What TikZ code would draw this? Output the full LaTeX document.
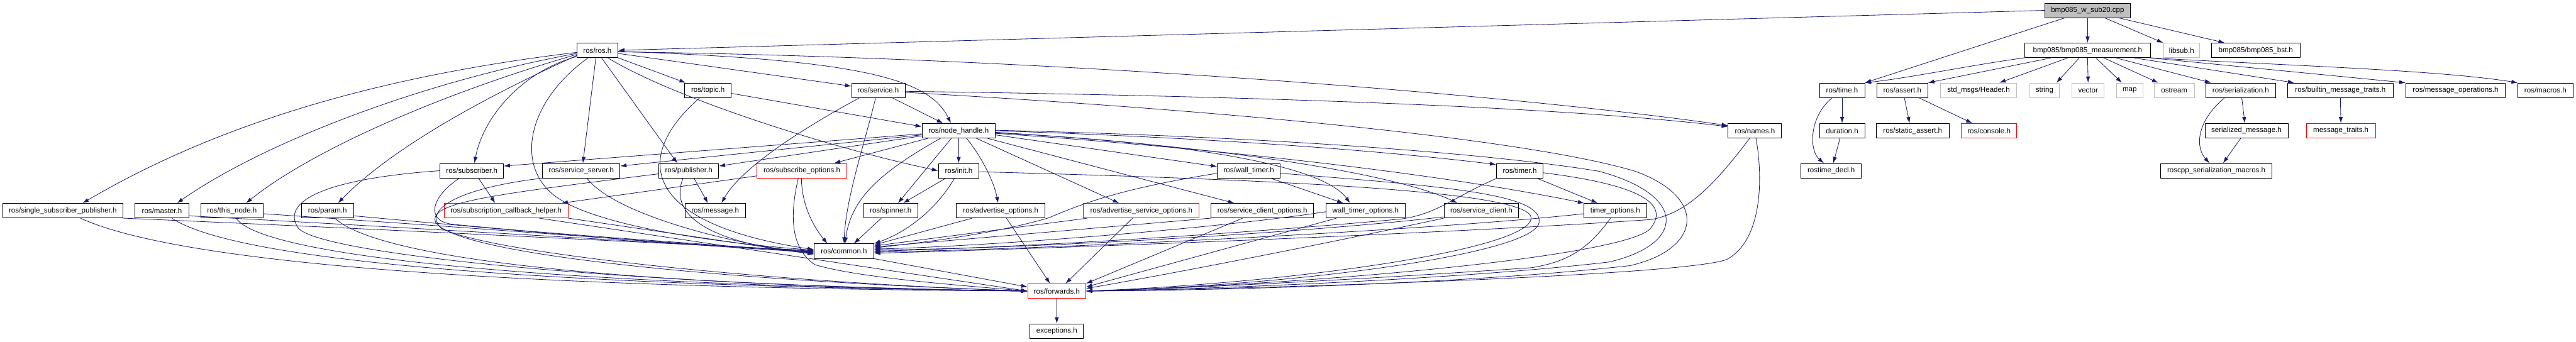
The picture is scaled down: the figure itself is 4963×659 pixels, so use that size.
\documentclass[tikz,border=0pt]{standalone}
\usepackage{fontspec}
\setmainfont{Liberation Sans}
\usetikzlibrary{arrows.meta}
\definecolor{edgeblue}{HTML}{191970}
\definecolor{extgray}{HTML}{BFBFBF}
\definecolor{truncred}{HTML}{FF0000}
\tikzset{
  nb/.style={draw=black, line width=1pt, minimum height=28pt, inner sep=0pt, fill=white, font=\fontsize{14}{16}\selectfont},
  ext/.style={nb, draw=extgray},
  trunc/.style={nb, draw=truncred},
  rootnode/.style={nb, fill=extgray},
  dep/.style={draw=edgeblue, line width=1pt, -{Latex[length=12pt,width=8pt]}}
}
\begin{document}
\begin{tikzpicture}[x=1pt,y=-1pt]
\useasboundingbox (0,0) rectangle (4963,659);
% row 0
\node[rootnode, minimum width=164pt] (cpp) at (4022,20) {bmp085\_w\_sub20.cpp};
% row 1
\node[nb, minimum width=79pt] (ros) at (1151,97) {ros/ros.h};
\node[nb, minimum width=243pt] (meas) at (4022,97) {bmp085/bmp085\_measurement.h};
\node[ext, minimum width=70pt] (libsub) at (4203,97) {libsub.h};
\node[nb, minimum width=171pt] (bst) at (4346,97) {bmp085/bmp085\_bst.h};
% row 2
\node[nb, minimum width=90pt] (topic) at (1364,174) {ros/topic.h};
\node[nb, minimum width=103pt] (service) at (1692,174) {ros/service.h};
\node[nb, minimum width=87pt] (time) at (3549,174) {ros/time.h};
\node[nb, minimum width=98pt] (assert) at (3665,174) {ros/assert.h};
\node[ext, minimum width=147pt] (header) at (3812,174) {std\_msgs/Header.h};
\node[ext, minimum width=58pt] (string) at (3939,174) {string};
\node[ext, minimum width=62pt] (vector) at (4023,174) {vector};
\node[ext, minimum width=51pt] (map) at (4103,174) {map};
\node[ext, minimum width=77pt] (ostream) at (4189,174) {ostream};
\node[nb, minimum width=135pt] (ser) at (4317,174) {ros/serialization.h};
\node[nb, minimum width=203pt] (builtin) at (4509,174) {ros/builtin\_message\_traits.h};
\node[nb, minimum width=192pt] (msgops) at (4731,174) {ros/message\_operations.h};
\node[nb, minimum width=106pt] (macros) at (4904,174) {ros/macros.h};
% row 3
\node[nb, minimum width=141pt] (nh) at (1847,252) {ros/node\_handle.h};
\node[nb, minimum width=103pt] (names) at (3381,252) {ros/names.h};
\node[nb, minimum width=87pt] (duration) at (3549,252) {duration.h};
\node[nb, minimum width=141pt] (sassert) at (3685,252) {ros/static\_assert.h};
\node[trunc, minimum width=107pt] (console) at (3832,252) {ros/console.h};
\node[nb, minimum width=160pt] (sermsg) at (4328,252) {serialized\_message.h};
\node[trunc, minimum width=133pt] (msgtraits) at (4510,252) {message\_traits.h};
% row 4
\node[nb, minimum width=122pt] (subscriber) at (909,329) {ros/subscriber.h};
\node[nb, minimum width=149pt] (sserver) at (1120,329) {ros/service\_server.h};
\node[nb, minimum width=115pt] (publisher) at (1327,329) {ros/publisher.h};
\node[trunc, minimum width=173pt] (subopts) at (1545,329) {ros/subscribe\_options.h};
\node[nb, minimum width=78pt] (init) at (1847,329) {ros/init.h};
\node[nb, minimum width=121pt] (walltimer) at (2406,329) {ros/wall\_timer.h};
\node[nb, minimum width=90pt] (timer) at (2928,329) {ros/timer.h};
\node[nb, minimum width=116pt] (rostimedecl) at (3528,329) {rostime\_decl.h};
\node[nb, minimum width=215pt] (rsmacros) at (4270,329) {roscpp\_serialization\_macros.h};
% row 5
\node[nb, minimum width=232pt] (ssp) at (121,406) {ros/single\_subscriber\_publisher.h};
\node[nb, minimum width=104pt] (master) at (312,406) {ros/master.h};
\node[nb, minimum width=121pt] (thisnode) at (447,406) {ros/this\_node.h};
\node[nb, minimum width=100pt] (param) at (631,406) {ros/param.h};
\node[trunc, minimum width=239pt] (sch) at (975,406) {ros/subscription\_callback\_helper.h};
\node[nb, minimum width=117pt] (message) at (1378,406) {ros/message.h};
\node[nb, minimum width=104pt] (spinner) at (1716,406) {ros/spinner.h};
\node[nb, minimum width=171pt] (advopts) at (1928,406) {ros/advertise\_options.h};
\node[trunc, minimum width=223pt] (advsrvopts) at (2199,406) {ros/advertise\_service\_options.h};
\node[nb, minimum width=198pt] (scopts) at (2432,406) {ros/service\_client\_options.h};
\node[nb, minimum width=152pt] (wtopts) at (2631,406) {wall\_timer\_options.h};
\node[nb, minimum width=144pt] (sclient) at (2854,406) {ros/service\_client.h};
\node[nb, minimum width=122pt] (topts) at (3112,406) {timer\_options.h};
% rows 6-8
\node[nb, minimum width=115pt] (common) at (1626,484) {ros/common.h};
\node[trunc, minimum width=112pt] (forwards) at (2036,561) {ros/forwards.h};
\node[nb, minimum width=103pt] (exceptions) at (2036,638) {exceptions.h};

% ---- cpp
\draw[dep] (cpp.west) -- (ros.east);
\draw[dep] ([xshift=-44pt]cpp.south) -- (time.north east);
\draw[dep] (cpp.south) -- (meas.north);
\draw[dep] ([xshift=33pt]cpp.south) -- (libsub.north west);
\draw[dep] ([xshift=60pt]cpp.south) -- ([xshift=-60pt]bst.north);
% ---- measurement
\draw[dep] (meas.south west) .. controls (3800,125) and (3680,150) .. (time.north east);
\draw[dep] ([xshift=-70pt]meas.south) -- (assert.north east);
\draw[dep] ([xshift=-38pt]meas.south) -- ([xshift=40pt]header.north);
\draw[dep] ([xshift=-16pt]meas.south) -- ([xshift=23pt]string.north);
\draw[dep] (meas.south) -- (vector.north);
\draw[dep] ([xshift=16pt]meas.south) -- ([xshift=-15pt]map.north);
\draw[dep] ([xshift=31pt]meas.south) -- ([xshift=-31pt]ostream.north);
\draw[dep] ([xshift=54pt]meas.south) -- ([xshift=-57pt]ser.north);
\draw[dep] ([xshift=89pt]meas.south) -- ([xshift=-89pt]builtin.north);
\draw[dep] ([xshift=-2pt]meas.south east) -- (msgops.north west);
\draw[dep] (meas.south east) .. controls (4400,126) and (4700,135) .. (macros.north west);
% ---- time / assert / serialization
\draw[dep] (time.south) -- (duration.north);
\draw[dep] ([xshift=-19pt]time.south) .. controls (3485,225) and (3485,290) .. ([xshift=-14pt]rostimedecl.north);
\draw[dep] ([xshift=-4pt]duration.south) -- ([xshift=4pt]rostimedecl.north);
\draw[dep] ([xshift=4pt]assert.south) -- ([xshift=-6pt]sassert.north);
\draw[dep] ([xshift=32pt]assert.south) -- ([xshift=-32pt]console.north);
\draw[dep] ([xshift=2pt]ser.south) -- ([xshift=-3pt]sermsg.north);
\draw[dep] ([xshift=-31pt]ser.south) .. controls (4230,235) and (4230,285) .. ([xshift=-13pt]rsmacros.north);
\draw[dep] ([xshift=-11pt]sermsg.south) -- ([xshift=13pt]rsmacros.north);
\draw[dep] (builtin.south) -- (msgtraits.north);
% ---- ros.h
\draw[dep] ([yshift=-4pt]ros.west) .. controls (700,150) and (400,250) .. ([xshift=38pt]ssp.north);
\draw[dep] ([yshift=-6pt]ros.west) .. controls (800,160) and (500,280) .. ([xshift=29pt]master.north);
\draw[dep] ([yshift=-8pt]ros.west) .. controls (850,180) and (600,290) .. ([xshift=27pt]thisnode.north);
\draw[dep] ([yshift=-10pt]ros.west) .. controls (950,180) and (760,280) .. ([xshift=20pt]param.north);
\draw[dep] ([yshift=-12pt]ros.west) .. controls (1000,140) and (930,230) .. ([xshift=5pt]subscriber.north);
\draw[dep] ([xshift=-18pt]ros.south) .. controls (1010,200) and (990,330) .. (1080,385) .. controls (1170,440) and (1400,470) .. ([yshift=2pt]common.west);
\draw[dep] ([xshift=-3pt]ros.south) -- ([xshift=3pt]sserver.north);
\draw[dep] ([xshift=8pt]ros.south) -- ([xshift=-22pt]publisher.north);
\draw[dep] (ros.south east) -- ([xshift=-43pt]topic.north);
\draw[dep] ([yshift=-6pt]ros.east) -- ([yshift=8pt]service.west);
\draw[dep] ([xshift=20pt]ros.south) .. controls (1300,190) and (1600,285) .. (init.west);
\draw[dep] ([yshift=-2pt]ros.east) .. controls (1650,115) and (1790,150) .. ([xshift=-15pt]nh.north);
\draw[dep] ([yshift=-3pt]ros.east) .. controls (2000,110) and (2900,180) .. ([yshift=10pt]names.west);
% ---- topic.h
\draw[dep] ([yshift=-6pt]topic.east) -- ([yshift=8pt]nh.west);
\draw[dep] ([xshift=-16pt]topic.south) .. controls (1220,300) and (1230,430) .. ([yshift=3pt]common.west);
% ---- service.h
\draw[dep] ([xshift=27pt]service.south) -- ([xshift=-30pt]nh.north);
\draw[dep] ([xshift=-5pt]service.south) .. controls (1665,280) and (1630,380) .. (common.north);
\draw[dep] ([xshift=-36pt]service.south) .. controls (1560,240) and (1430,320) .. ([xshift=12pt]message.north);
\draw[dep] ([yshift=-2pt]service.east) .. controls (2400,185) and (3000,205) .. ([yshift=8pt]names.west);
\draw[dep] ([yshift=-4pt]service.east) .. controls (2400,215) and (2950,270) .. (3150,330) .. controls (3290,380) and (3280,480) .. (3140,512) .. controls (2800,550) and (2300,560) .. (forwards.east);
% ---- node_handle.h
\draw[dep] ([yshift=-6pt]nh.west) -- ([yshift=9pt]subscriber.east);
\draw[dep] ([yshift=-8pt]nh.west) -- ([yshift=9pt]sserver.east);
\draw[dep] ([yshift=-10pt]nh.west) -- ([yshift=9pt]publisher.east);
\draw[dep] ([xshift=-59pt]nh.south) -- ([xshift=62pt]subopts.north);
\draw[dep] ([xshift=-35pt]nh.south) .. controls (1700,330) and (1640,380) .. ([xshift=2pt]common.north);
\draw[dep] ([xshift=-14pt]nh.south) -- ([xshift=14pt]spinner.north);
\draw[dep] (nh.south) -- (init.north);
\draw[dep] ([xshift=15pt]nh.south) .. controls (1890,300) and (1915,350) .. ([xshift=-5pt]advopts.north);
\draw[dep] ([xshift=34pt]nh.south) -- ([xshift=-43pt]advsrvopts.north);
\draw[dep] ([xshift=55pt]nh.south) -- ([xshift=-54pt]scopts.north);
\draw[dep] ([yshift=-8pt]nh.east) -- ([yshift=8pt]walltimer.west);
\draw[dep] ([yshift=-4pt]nh.east) .. controls (2300,275) and (2550,320) .. ([xshift=-30pt]wtopts.north);
\draw[dep] ([yshift=-3pt]nh.east) .. controls (2400,285) and (2700,340) .. ([xshift=-46pt]sclient.north);
\draw[dep] (nh.east) .. controls (2400,268) and (2700,295) .. ([yshift=12pt]timer.west);
\draw[dep] ([yshift=-5pt]nh.east) .. controls (2400,290) and (2800,340) .. ([xshift=-60pt]topts.north);
\draw[dep] ([yshift=1pt]nh.east) .. controls (2500,265) and (2900,300) .. (3080,330) .. controls (3250,375) and (3250,470) .. (3100,505) .. controls (2800,540) and (2300,558) .. (forwards.east);
% ---- init.h
\draw[dep] ([xshift=-25pt]init.south) -- ([xshift=24pt]spinner.north);
\draw[dep] ([xshift=-8pt]init.south) .. controls (1800,410) and (1740,450) .. (common.north east);
\draw[dep] ([yshift=-2pt]init.east) .. controls (2400,345) and (2950,365) .. (2950,420) .. controls (2950,480) and (2500,545) .. (forwards.east);
% ---- row 5 middle/right
\draw[dep] ([xshift=-18pt]spinner.south) -- ([xshift=19pt]common.north);
\draw[dep] ([xshift=-55pt]advopts.south) -- ([yshift=12pt]common.east);
\draw[dep] ([xshift=11pt]advopts.south) -- ([xshift=-13pt]forwards.north);
\draw[dep] ([xshift=8pt]advsrvopts.south west) -- ([yshift=10pt]common.east);
\draw[dep] ([xshift=-17pt]advsrvopts.south) -- ([xshift=17pt]forwards.north);
\draw[dep] (scopts.south west) -- ([yshift=8pt]common.east);
\draw[dep] ([xshift=-38pt]scopts.south) -- (forwards.north east);
% ---- wall_timer.h
\draw[dep] ([xshift=42pt]walltimer.south) -- ([xshift=-43pt]wtopts.north);
\draw[dep] ([yshift=-5pt]walltimer.west) .. controls (2150,365) and (2080,395) .. (2020,420) .. controls (1900,455) and (1750,470) .. ([yshift=6pt]common.east);
\draw[dep] ([yshift=-5pt]walltimer.east) .. controls (2800,360) and (2975,375) .. (2965,430) .. controls (2950,490) and (2500,550) .. (forwards.east);
\draw[dep] ([yshift=-2pt]wtopts.west) .. controls (2350,440) and (1900,475) .. ([yshift=4pt]common.east);
\draw[dep] ([xshift=-56pt]wtopts.south) -- ([yshift=8pt]forwards.east);
\draw[dep] ([yshift=-12pt]sclient.west) .. controls (2500,450) and (2000,478) .. ([yshift=2pt]common.east);
\draw[dep] (sclient.south west) .. controls (2600,460) and (2300,520) .. ([yshift=5pt]forwards.east);
% ---- timer.h
\draw[dep] ([xshift=33pt]timer.south) -- ([xshift=-34pt]topts.north);
\draw[dep] ([xshift=-44pt]timer.south) .. controls (2800,380) and (2770,412) .. (2700,422) .. controls (2400,450) and (1950,478) .. (common.east);
\draw[dep] ([yshift=-4pt]timer.east) .. controls (3150,355) and (3220,390) .. (3180,440) .. controls (3140,490) and (2600,545) .. (forwards.east);
\draw[dep] ([yshift=-6pt]topts.west) .. controls (2800,440) and (2100,478) .. ([yshift=-2pt]common.east);
\draw[dep] ([xshift=-9pt]topts.south) .. controls (3060,480) and (3020,505) .. (2950,516) .. controls (2600,540) and (2300,555) .. (forwards.east);
% ---- names.h
\draw[dep] ([xshift=-10pt]names.south) .. controls (3300,360) and (3250,410) .. (3182,423) .. controls (2800,450) and (2000,480) .. ([yshift=-4pt]common.east);
\draw[dep] ([xshift=2pt]names.south) .. controls (3395,330) and (3400,460) .. (3327,500) .. controls (3250,530) and (2500,555) .. (forwards.east);
% ---- left group
\draw[dep] (ssp.south east) .. controls (700,440) and (1300,470) .. ([yshift=1pt]common.west);
\draw[dep] ([xshift=34pt]ssp.south) .. controls (350,510) and (1000,555) .. (forwards.west);
\draw[dep] ([yshift=-10pt]master.east) .. controls (900,445) and (1300,470) .. ([yshift=0pt]common.west);
\draw[dep] ([xshift=19pt]master.south) .. controls (450,500) and (1000,550) .. (forwards.west);
\draw[dep] ([yshift=-6pt]thisnode.east) .. controls (1000,445) and (1300,470) .. ([yshift=-1pt]common.west);
\draw[dep] ([xshift=8pt]thisnode.south) .. controls (500,490) and (1000,548) .. (forwards.west);
\draw[dep] ([yshift=-10pt]param.east) .. controls (1000,445) and (1300,472) .. ([yshift=-2pt]common.west);
\draw[dep] ([xshift=14pt]param.south) .. controls (720,490) and (1100,548) .. (forwards.west);
% subscriber
\draw[dep] ([xshift=13pt]subscriber.south) -- ([xshift=-21pt]sch.north);
\draw[dep] ([xshift=-24pt]subscriber.south) .. controls (830,380) and (820,425) .. (870,432) .. controls (1100,455) and (1400,472) .. ([yshift=-3pt]common.west);
\draw[dep] (subscriber.west) .. controls (620,345) and (540,390) .. (575,440) .. controls (620,490) and (1200,550) .. (forwards.west);
% service_server
\draw[dep] ([xshift=11pt]sserver.south) .. controls (1180,410) and (1400,470) .. ([yshift=-4pt]common.west);
\draw[dep] (sserver.south west) .. controls (900,360) and (810,400) .. (850,440) .. controls (950,490) and (1500,545) .. (forwards.west);
% publisher
\draw[dep] ([xshift=10pt]publisher.south) -- ([xshift=-14pt]message.north);
\draw[dep] ([xshift=-11pt]publisher.south) .. controls (1285,420) and (1380,470) .. ([yshift=-5pt]common.west);
\draw[dep] ([yshift=-6pt]publisher.west) .. controls (950,375) and (820,390) .. (840,430) .. controls (900,500) and (1500,545) .. (forwards.west);
% subscribe_options
\draw[dep] ([yshift=-10pt]subopts.west) -- ([xshift=-13pt]sch.north east);
\draw[dep] ([xshift=-1pt]subopts.south) .. controls (1545,400) and (1570,440) .. ([xshift=-32pt]common.north);
\draw[dep] ([xshift=-7pt]subopts.south) .. controls (1520,420) and (1525,480) .. (1570,510) .. controls (1650,535) and (1850,550) .. (forwards.west);
% subscription_callback_helper
\draw[dep] (sch.south east) -- ([yshift=-6pt]common.west);
\draw[dep] ([xshift=64pt]sch.south) -- (forwards.west);
% common / forwards
\draw[dep] (common.south east) -- ([yshift=8pt]forwards.west);
\draw[dep] (forwards.south) -- (exceptions.north);
\end{tikzpicture}
\end{document}
